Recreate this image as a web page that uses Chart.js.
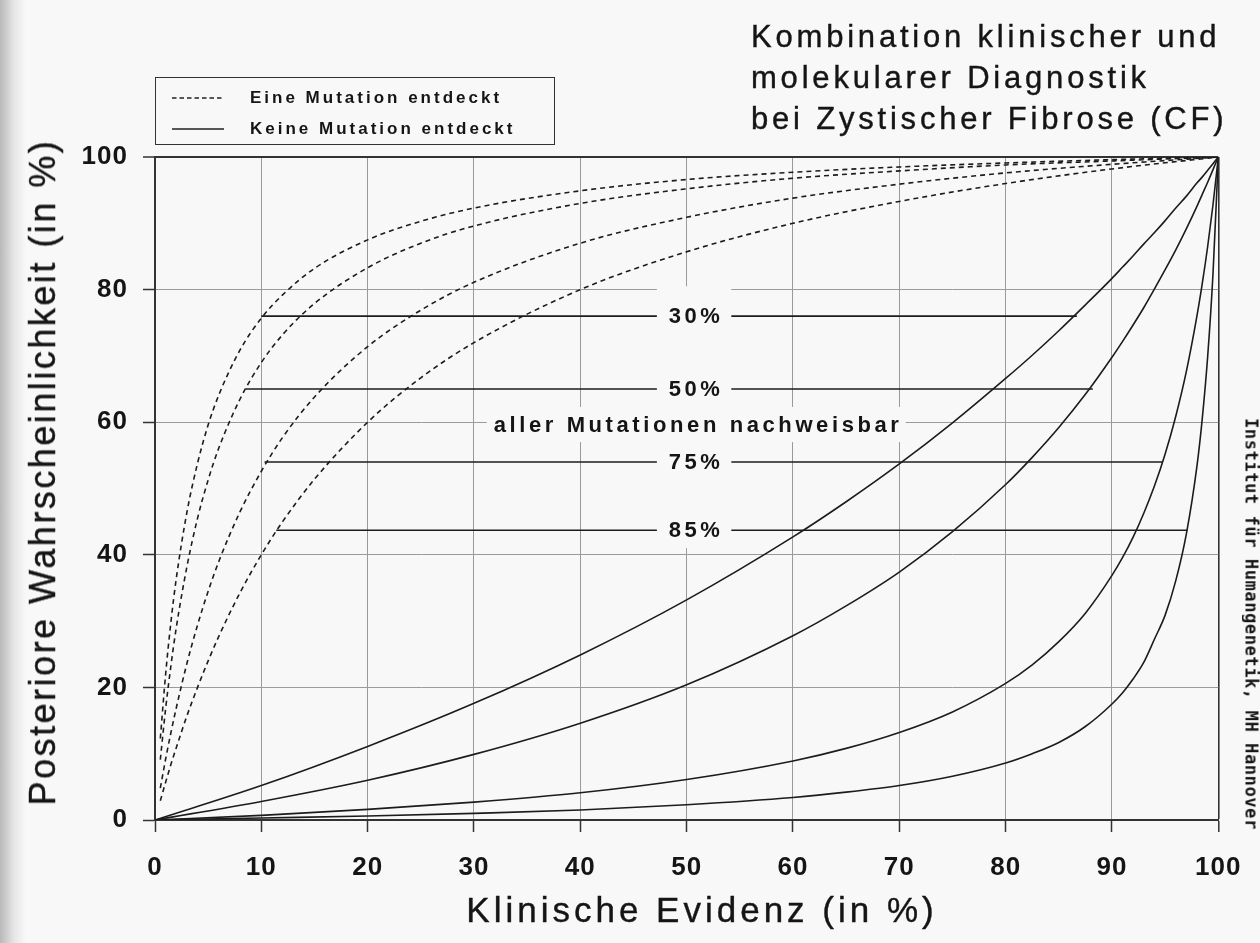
<!DOCTYPE html>
<html lang="de">
<head>
<meta charset="utf-8">
<title>Kombination klinischer und molekularer Diagnostik bei Zystischer Fibrose</title>
<script src="https://cdn.jsdelivr.net/npm/chart.js@4.4.1/dist/chart.umd.min.js"></script>
<style>
  html, body { margin: 0; padding: 0; background: #f8f8f8; overflow: hidden; }
  #wrap { position: relative; width: 1260px; height: 943px; font-family: "Liberation Sans", Arial, sans-serif; color: #151515; }
  #chart { position: absolute; left: 0; top: 0; }
  .edge { position: absolute; left: 0; top: 0; width: 26px; height: 943px;
    background: linear-gradient(to right, #b9b9b9 0, #cfcfcf 7px, #e6e6e6 14px, #f8f8f8 26px); }
  .ink { -webkit-text-stroke: 0.4px #151515; }
  .title { position: absolute; left: 751px; top: 16px; font-size: 31px; line-height: 41px; letter-spacing: 3.8px; white-space: nowrap; }
  .legend { position: absolute; left: 155px; top: 77px; width: 400px; height: 68px; box-sizing: border-box; border: 1.5px solid #333; }
  .legend-row { position: absolute; left: 250px; font-size: 17px; line-height: 20px; font-weight: bold; letter-spacing: 3px; white-space: nowrap; }
  .legend-sample { position: absolute; left: 172px; width: 52px; height: 6px; }
  .xtitle { position: absolute; left: 298px; width: 800px; top: 892px; text-align: center; font-size: 35px; line-height: 35px; letter-spacing: 4px; padding-left: 4px; white-space: nowrap; }
  .ytitle { position: absolute; left: 43px; top: 472px; font-size: 36px; line-height: 36px; letter-spacing: 2.5px; white-space: nowrap;
    transform: translate(-50%, -50%) rotate(-90deg); }
  .side { position: absolute; left: 1251px; top: 624px; font-family: "DejaVu Sans Mono", monospace; font-weight: bold; font-size: 17px; line-height: 17px;
    letter-spacing: 0.6px; white-space: nowrap; transform: translate(-50%, -50%) rotate(90deg); }
</style>
</head>
<body>
<div id="wrap">
  <div class="edge"></div>
  <canvas id="chart" width="1260" height="943"></canvas>
  <div class="title ink">Kombination klinischer und<br>molekularer Diagnostik<br>bei Zystischer Fibrose (CF)</div>
  <div class="legend"></div>
  <svg class="legend-sample" style="top:95px" viewBox="0 0 52 6"><line x1="0" y1="3" x2="52" y2="3" stroke="#222" stroke-width="1.6" stroke-dasharray="4.5,3"/></svg>
  <svg class="legend-sample" style="top:126px" viewBox="0 0 52 6"><line x1="0" y1="3" x2="52" y2="3" stroke="#222" stroke-width="1.6"/></svg>
  <div class="legend-row" style="top:88px">Eine Mutation entdeckt</div>
  <div class="legend-row" style="top:119px">Keine Mutation entdeckt</div>
  <div class="xtitle ink">Klinische Evidenz (in %)</div>
  <div class="ytitle ink">Posteriore Wahrscheinlichkeit (in %)</div>
  <div class="side">Institut für Humangenetik, MH Hannover</div>
</div>

<script>
// Klinische Evidenz (x, in %) for the two curve families
const evidenceDashed = [0.5, 1, 1.5, 2, 3, 4, 5, 6, 8, 10, 12, 15, 20, 25, 30, 40, 50, 60, 70, 80, 90, 100];
const evidenceSolid = [0, 10, 20, 30, 40, 50, 60, 65, 70, 75, 80, 82.5, 85, 87.5, 90, 91, 92, 93, 94, 95, 96, 97, 98, 98.5, 99, 99.5, 100];

// Posteriore Wahrscheinlichkeit, eine Mutation entdeckt (dashed)
const oneMut30 = [12.3, 22.0, 29.9, 36.4, 46.4, 53.8, 59.6, 64.1, 70.9, 75.7, 79.2, 83.2, 87.5, 90.3, 92.3, 94.9, 96.6, 97.7, 98.5, 99.1, 99.6, 100];
const oneMut50 = [9.1, 16.8, 23.3, 29.0, 38.2, 45.5, 51.3, 56.1, 63.5, 69.0, 73.2, 77.9, 83.3, 87.0, 89.6, 93.0, 95.2, 96.8, 97.9, 98.8, 99.4, 100];
const oneMut75 = [4.8, 9.2, 13.2, 16.9, 23.6, 29.4, 34.5, 39.0, 46.5, 52.6, 57.7, 63.8, 71.4, 76.9, 81.1, 87.0, 90.9, 93.8, 95.9, 97.6, 98.9, 100];
const oneMut85 = [2.9, 5.7, 8.4, 10.9, 15.7, 20.0, 24.0, 27.7, 34.3, 40.0, 45.0, 51.4, 60.0, 66.7, 72.0, 80.0, 85.7, 90.0, 93.3, 96.0, 98.2, 100];

// Posteriore Wahrscheinlichkeit, keine Mutation entdeckt (solid)
const noMut30 = [0, 5.2, 11.1, 17.6, 24.9, 33.2, 42.7, 48.0, 53.7, 59.9, 66.6, 70.1, 73.8, 77.7, 81.7, 83.4, 85.1, 86.9, 88.6, 90.4, 92.3, 94.1, 96.1, 97.0, 98.0, 99.0, 100];
const noMut50 = [0, 2.8, 6.0, 9.9, 14.6, 20.4, 27.8, 32.3, 37.4, 43.5, 50.6, 54.7, 59.2, 64.2, 69.8, 72.2, 74.7, 77.3, 80.1, 83.0, 86.0, 89.2, 92.6, 94.4, 96.2, 98.1, 100];
const noMut75 = [0, 0.7, 1.6, 2.7, 4.1, 6.1, 8.9, 10.8, 13.2, 16.3, 20.6, 23.4, 26.9, 31.2, 36.9, 39.6, 42.7, 46.3, 50.4, 55.2, 60.9, 67.7, 76.1, 81.0, 86.5, 92.8, 100];
const noMut85 = [0, 0.3, 0.6, 1.0, 1.5, 2.3, 3.4, 4.2, 5.2, 6.6, 8.6, 10.0, 11.7, 14.1, 17.5, 19.2, 21.3, 23.8, 27.3, 30.9, 36.1, 43.2, 53.5, 60.7, 69.9, 82.4, 100];

// Detection rate markers: label, level (y), where the line starts (x) and ends (x)
const rateLabels = ['30%', '50%', '75%', '85%'];
const rateLevels = [76, 65, 54, 43.7];
const rateStart = [10, 8.5, 10.3, 11.4];
const rateEnd = [86.7, 88.2, 94.8, 97.1];
const noteText = 'aller Mutationen nachweisbar';
const noteLevel = 59.6;

const xTicks = [0, 10, 20, 30, 40, 50, 60, 70, 80, 90, 100];
const yTicks = [0, 20, 40, 60, 80, 100];

const INK = '#1c1c1c';
const PAGE = '#f8f8f8';
const FONT = '"Liberation Sans", Arial, sans-serif';
const labelX = 50.7;         // centre of the rate labels, in x units
const gapFrom = 47.2, gapTo = 54.2;

const pairs = (xs, ys) => xs.map((x, i) => ({ x, y: ys[i] }));

function curve(xs, ys, dashed) {
  return {
    data: pairs(xs, ys),
    borderColor: INK,
    borderWidth: 1.6,
    borderDash: dashed ? [5, 4] : [],
    pointRadius: 0,
    cubicInterpolationMode: 'monotone',
  };
}

function rateLine(i) {
  const lvl = rateLevels[i];
  return {
    data: [
      { x: rateStart[i], y: lvl }, { x: gapFrom, y: lvl },
      { x: labelX, y: null },
      { x: gapTo, y: lvl }, { x: rateEnd[i], y: lvl },
    ],
    borderColor: INK,
    borderWidth: 1.6,
    pointRadius: 0,
    tension: 0,
    spanGaps: false,
  };
}

// slightly tracked tick labels like the typeset original
const spacingPlugin = {
  id: 'tickSpacing',
  beforeDraw(chart) { chart.ctx.letterSpacing = '1px'; },
  beforeDatasetsDraw(chart) { chart.ctx.letterSpacing = '0px'; },
};

// white-out behind the labels, then the texts
const labelsPlugin = {
  id: 'rateLabels',
  beforeDatasetsDraw(chart) {
    const { ctx, scales: { x, y } } = chart;
    ctx.save();
    ctx.fillStyle = PAGE;
    const box = (x0, x1, y0, y1) => {
      const l = x.getPixelForValue(x0), r = x.getPixelForValue(x1);
      const t = y.getPixelForValue(y1), b = y.getPixelForValue(y0);
      ctx.fillRect(l, t, r - l, b - t);
    };
    box(gapFrom, gapTo, 41, 80.5);
    box(31.2, 70.6, 57, 62.3);
    ctx.restore();
  },
  afterDatasetsDraw(chart) {
    const { ctx, scales: { x, y } } = chart;
    ctx.save();
    ctx.fillStyle = '#151515';
    ctx.font = 'bold 22px ' + FONT;
    ctx.textAlign = 'center';
    ctx.textBaseline = 'middle';
    ctx.letterSpacing = '3.6px';
    const cx = x.getPixelForValue(labelX) + 2;
    rateLabels.forEach((t, i) => ctx.fillText(t, cx, y.getPixelForValue(rateLevels[i]) + 1));
    ctx.fillText(noteText, cx + 2, y.getPixelForValue(noteLevel) + 1);
    ctx.restore();
  },
};

const gridColor = c => (c.tick && c.tick.value === 100 ? '#333' : '#9a9a9a');

new Chart(document.getElementById('chart'), {
  type: 'line',
  data: {
    datasets: [
      curve(evidenceDashed, oneMut30, true),
      curve(evidenceDashed, oneMut50, true),
      curve(evidenceDashed, oneMut75, true),
      curve(evidenceDashed, oneMut85, true),
      curve(evidenceSolid, noMut30, false),
      curve(evidenceSolid, noMut50, false),
      curve(evidenceSolid, noMut75, false),
      curve(evidenceSolid, noMut85, false),
      ...rateLabels.map((_, i) => rateLine(i)),
    ],
  },
  options: {
    responsive: false,
    devicePixelRatio: 1,
    animation: false,
    font: { family: FONT },
    layout: { padding: { top: 157, right: 32, bottom: 0, left: 0 } },
    plugins: { legend: { display: false }, tooltip: { enabled: false } },
    scales: {
      x: {
        type: 'linear',
        min: 0,
        max: 100,
        afterFit: s => { s.height = 123; },
        afterBuildTicks: s => { s.ticks = xTicks.map(value => ({ value })); },
        ticks: { font: { family: FONT, size: 26, weight: 'bold' }, color: '#151515', padding: 20, maxRotation: 0 },
        grid: {
          color: gridColor,
          lineWidth: c => (c.tick && c.tick.value === 100 ? 1.6 : 1),
          tickColor: '#333',
          tickLength: 12,
          tickWidth: 1.5,
        },
        border: { color: '#333', width: 2 },
      },
      y: {
        type: 'linear',
        min: 0,
        max: 100,
        afterFit: s => { s.width = 155; },
        afterBuildTicks: s => { s.ticks = yTicks.map(value => ({ value })); },
        ticks: { font: { family: FONT, size: 26, weight: 'bold' }, color: '#151515', padding: 15 },
        grid: {
          color: gridColor,
          lineWidth: c => (c.tick && c.tick.value === 100 ? 2 : 1),
          tickColor: '#333',
          tickLength: 12,
          tickWidth: 1.5,
        },
        border: { color: '#333', width: 2 },
      },
    },
  },
  plugins: [spacingPlugin, labelsPlugin],
});
</script>
</body>
</html>
